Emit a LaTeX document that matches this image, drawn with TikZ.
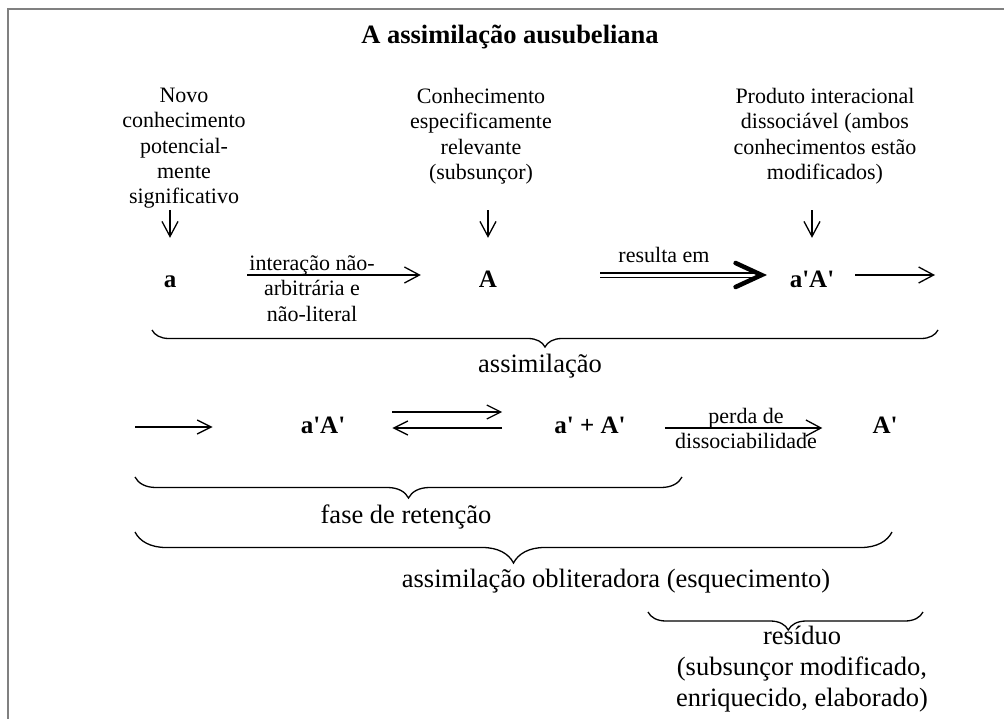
\documentclass[tikz,border=0pt]{standalone}
\usepackage{fontspec}
\setmainfont{Liberation Serif}
\usetikzlibrary{arrows.meta,decorations.pathreplacing}
\newcommand\sq{\XeTeXglyph\XeTeXcharglyph"27\relax}
\begin{document}
\begin{tikzpicture}[x=1pt,y=-1pt,
  txt/.style={font=\fontsize{22}{25.3}\selectfont, align=center, inner sep=0pt},
  big/.style={font=\fontsize{26.5}{31}\selectfont, align=center, inner sep=0pt},
  sym/.style={font=\fontsize{25}{30}\selectfont\bfseries, inner sep=0pt, anchor=base, text height=24pt, text depth=0pt},
  symb/.style={sym, text height=12pt},
  arr/.style={-{Straight Barb[length=15pt,width=16pt]}, line width=1.3pt},
  arrb/.style={-{Straight Barb[length=14pt,width=14pt]}, line width=1.3pt},
  dbl/.style={double, double distance=3pt, line width=1.6pt},
  thickhead/.style={line width=4.5pt, line join=miter, line cap=round},
  brc/.style={decorate, line width=1.3pt},
  frame/.style={draw=black!50, line width=2pt}]
\useasboundingbox (0,0) rectangle (1004,718);
\fill[white] (-20,-20) rectangle (1030,740);
\draw[frame] (1030,9) -- (7.5,9) -- (7.5,740);

\node[font=\fontsize{26.5}{30}\selectfont\bfseries, anchor=base, inner sep=0pt] (title) at (510,43) {A assimilação ausubeliana};

\node[txt, anchor=north] (t1) at (184,88) {Novo\\conhecimento\\potencial-\\mente\\significativo};
\node[txt, anchor=north] (t2) at (481,88) {Conhecimento\\especificamente\\relevante\\(subsunçor)};
\node[txt, anchor=north] (t3) at (825,88) {Produto interacional\\dissociável (ambos\\conhecimentos estão\\modificados)};

\node[sym] (a) at (170,287) {a};
\node[sym] (A) at (488,287) {A};
\node[sym] (aA1) at (812,287) {a\sq A\sq};

\draw[arr, shorten <=1pt, shorten >=25pt] (t1.south -| a) -- (a.north);
\draw[arr, shorten <=26pt, shorten >=25pt] (t2.south -| A) -- (A.north);
\draw[arr, shorten <=26pt, shorten >=25pt] (t3.south -| aA1) -- (aA1.north);

\node[txt, anchor=north] (l1) at (312,255.5) {interação não-\\arbitrária e\\não-literal};
\node[txt, anchor=base] (l2) at (664,262) {resulta em};

\draw[arr, shorten <=71pt, shorten >=58pt] (a.east) -- (A.west);
\draw[dbl, shorten <=103pt, shorten >=31pt] (A.east) -- (aA1.west);
\coordinate (rtip) at ([xshift=-28pt]aA1.west);
\draw[thickhead] ([shift={(-26pt,12pt)}]rtip) -- (rtip) -- ([shift={(-26pt,-12pt)}]rtip);
\coordinate (e1) at (935,275);
\draw[arr, shorten <=21pt] (aA1.east) -- (e1);

\draw[brc, decoration={brace, mirror, amplitude=17pt, aspect=0.5}] (152,330) -- (938,330);
\node[big, anchor=base] (l4) at (540,372) {assimilação};

\coordinate (s2) at (135,427);
\node[symb] (aA2) at (323,433) {a\sq A\sq};
\node[symb] (apA) at (590,433) {a\sq{} + A\sq};
\node[symb] (A3) at (885,433) {A\sq};

\draw[arrb, shorten >=88pt] (s2) -- (aA2.west);
\draw[arrb, shorten <=47pt, shorten >=52pt] ([yshift=15pt]aA2.east) -- ([yshift=15pt]apA.west);
\draw[arrb, shorten <=52pt, shorten >=47pt] ([yshift=-1pt]apA.west) -- ([yshift=-1pt]aA2.east);
\draw[arr, shorten <=39pt, shorten >=50pt] ([yshift=-1pt]apA.east) -- ([yshift=-1pt]A3.west);
\node[txt, anchor=north] (l3) at (746,408) {perda de\\dissociabilidade};

\draw[brc, decoration={brace, mirror, amplitude=21pt, aspect=0.5}] (135,477) -- (682,477);
\node[big, anchor=base] (l5) at (406,523) {fase de retenção};

\draw[brc, decoration={brace, mirror, amplitude=31pt, aspect=0.5}] (135,532) -- (892,532);
\node[big, anchor=base] (l6) at (616,587) {assimilação obliteradora (esquecimento)};

\draw[brc, decoration={brace, mirror, amplitude=18pt, aspect=0.51}] (648,612) -- (923,612);
\node[big, anchor=north] (l7) at (802,626) {resíduo\\(subsunçor modificado,\\enriquecido, elaborado)};
\end{tikzpicture}
\end{document}
